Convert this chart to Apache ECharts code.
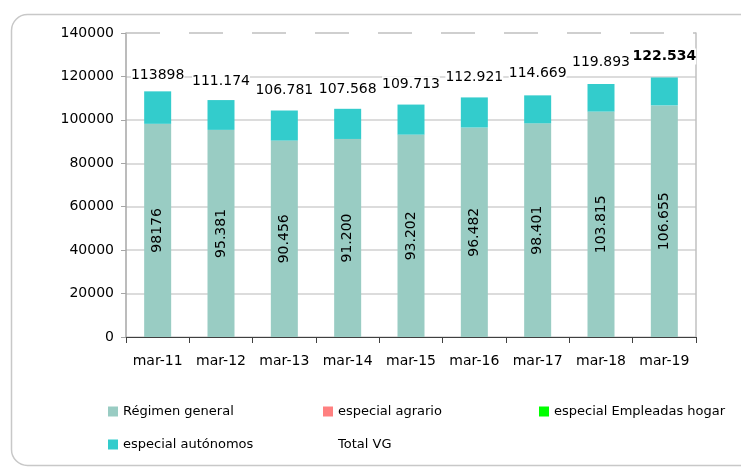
<!DOCTYPE html>
<html><head><meta charset="utf-8">
<script src="https://cdn.jsdelivr.net/npm/echarts@6/dist/echarts.min.js"></script>
<style>html,body{margin:0;padding:0;background:#fff}#c{width:741px;height:468px}</style>
</head><body><div id="c"></div>
<script>
var categories = ['mar-11','mar-12','mar-13','mar-14','mar-15','mar-16','mar-17','mar-18','mar-19'];
var regimenGeneral = [98176, 95381, 90456, 91200, 93202, 96482, 98401, 103815, 106655];
var regimenGeneralLabels = ['98176','95.381','90.456','91.200','93.202','96.482','98.401','103.815','106.655'];
var especialAgrario = [null, null, null, null, null, null, null, null, null];
var especialHogar = [null, null, null, null, null, null, null, null, null];
var especialAutonomos = [14950, 13730, 13850, 13890, 13840, 13850, 12880, 12710, 12870];
var totalVG = [113898, 111174, 106781, 107568, 109713, 112921, 114669, 119893, 122534];
var totalVGLabels = ['113898','111.174','106.781','107.568','109.713','112.921','114.669','119.893','122.534'];
var yTicks = [0, 20000, 40000, 60000, 80000, 100000, 120000, 140000];

var FONT = 'DejaVu Sans';
var chart = echarts.init(document.getElementById('c'), null, {renderer: 'canvas'});
var legendText = {fontFamily: FONT, fontSize: 13, color: '#000'};
function lg(name, left, top, hidden) {
  var d = {name: name};
  if (hidden) d.itemStyle = {color: 'rgba(0,0,0,0)', opacity: 0};
  return {left: left, top: top, padding: 0, itemWidth: 10, itemHeight: 10, itemGap: 5,
    selectedMode: false, textStyle: legendText, icon: 'rect', data: [d]};
}
var option = {
  animation: false,
  backgroundColor: '#fff',
  graphic: [{type: 'rect', left: 9, top: 12, shape: {width: 760, height: 451, r: 16},
    style: {fill: 'none', stroke: '#c8c8c8', lineWidth: 1.5}, silent: true}],
  grid: {left: 126, right: 45, top: 33, bottom: 131, containLabel: false},
  legend: [
    lg('Régimen general', 108, 405),
    lg('especial agrario', 323, 405),
    lg('especial Empleadas hogar', 539, 405),
    lg('especial autónomos', 108, 438),
    lg('Total VG', 323, 438, true)
  ],
  xAxis: {
    type: 'category', data: categories,
    axisLine: {lineStyle: {color: '#404040', width: 1}},
    axisTick: {show: true, interval: 0, length: 6, lineStyle: {color: '#404040'}},
    axisLabel: {interval: 0, fontFamily: FONT, fontSize: 14, color: '#000', margin: 17},
    splitLine: {show: false}
  },
  yAxis: [{
    type: 'value', min: 0, max: 140000, interval: 20000,
    axisLine: {show: true, lineStyle: {color: '#a6a6a6', width: 1.5}},
    axisTick: {show: true, length: 5, lineStyle: {color: '#a6a6a6'}},
    axisLabel: {fontFamily: FONT, fontSize: 14, color: '#000', margin: 12,
      formatter: function (v) { return yTicks.indexOf(v) >= 0 ? String(v) : ''; }},
    splitLine: {show: true, lineStyle: {color: ['#d0d0d0','#d0d0d0','#d0d0d0','#d0d0d0','#d0d0d0','#d0d0d0','#d0d0d0','rgba(0,0,0,0)'], width: 1.5}}
  }, {
    type: 'value', min: 0, max: 140000, interval: 20000, position: 'right',
    axisLine: {show: true, lineStyle: {color: '#c0c0c0', width: 1.5}},
    axisTick: {show: false}, axisLabel: {show: false}, splitLine: {show: false}
  }],
  series: [
    {name: 'Régimen general', type: 'bar', stack: 'a', data: regimenGeneral, barWidth: 27,
      itemStyle: {color: '#99CCC3'},
      label: {show: true, position: 'inside', rotate: 90, fontFamily: FONT, fontSize: 14, color: '#000',
        formatter: function (p) { return regimenGeneralLabels[p.dataIndex]; }},
      markLine: {silent: true, symbol: 'none', label: {show: false},
        lineStyle: {color: '#c0c0c0', type: [34, 29], width: 1.5},
        data: [{yAxis: 140000}]}},
    {name: 'especial agrario', type: 'bar', stack: 'a', data: especialAgrario, itemStyle: {color: '#FF8080'}},
    {name: 'especial Empleadas hogar', type: 'bar', stack: 'a', data: especialHogar, itemStyle: {color: '#00FF00'}},
    {name: 'especial autónomos', type: 'bar', stack: 'a', data: especialAutonomos, itemStyle: {color: '#33CCCC'}},
    {name: 'Total VG', type: 'line', data: totalVG, z: 1,
      lineStyle: {width: 0, color: 'rgba(0,0,0,0)'}, symbol: 'circle', symbolSize: 1,
      showSymbol: true,
      itemStyle: {color: 'rgba(0,0,0,0)', borderWidth: 0},
      label: {show: true, position: 'top', distance: 6, fontFamily: FONT, fontSize: 14, color: '#000',
        backgroundColor: '#fff', padding: [1, 0],
        formatter: function (p) {
          var t = totalVGLabels[p.dataIndex];
          return p.dataIndex === totalVG.length - 1 ? '{b|' + t + '}' : t;
        },
        rich: {b: {fontFamily: FONT, fontSize: 14, fontWeight: 'bold', color: '#000'}}}}
  ]
};
chart.setOption(option);
</script></body></html>
